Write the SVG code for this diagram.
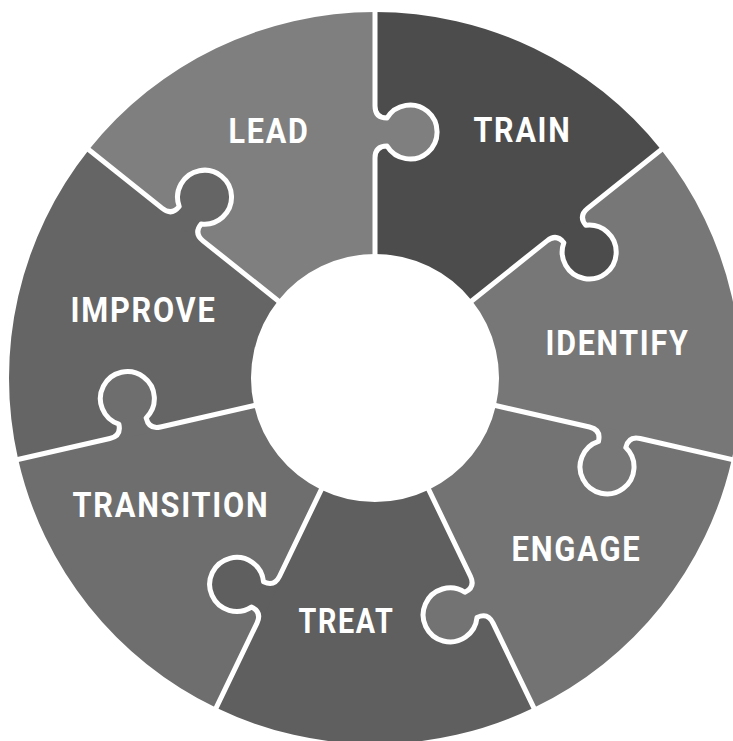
<svg xmlns="http://www.w3.org/2000/svg" width="733" height="741" viewBox="0 0 733 741">
<style>
.lbl{font-family:Roboto,"Liberation Sans",Arial,sans-serif;font-weight:700;font-size:35px;fill:#ffffff;text-anchor:middle;letter-spacing:2px}
.dv{fill:none;stroke:#ffffff;stroke-width:5;stroke-linejoin:round}
</style>
<defs>
<path id="lobe" d="M 216 -3 L 220 0 C 228 0 232 4 232 12 A 27 27 0 1 0 260 12 C 260 4 264 0 272 0 L 276 -3 Z"/>
<path id="divider" d="M 118 0 L 220 0 C 228 0 232 4 232 12 A 27 27 0 1 0 260 12 C 260 4 264 0 272 0 L 372 0"/>
<mask id="mLead" maskUnits="userSpaceOnUse" x="0" y="0" width="733" height="741">
<rect width="733" height="741" fill="#ffffff"/>
<use href="#lobe" fill="#000000" transform="translate(375 378) rotate(218.5714)"/>
</mask>
</defs>
<rect width="733" height="741" fill="#ffffff"/>
<g id="improve" fill="#656565">
<path d="M 254.11 405.59 L 18.18 459.44 A 366 366 0 0 1 88.85 149.80 L 278.05 300.69 A 124 124 0 0 0 254.11 405.59 Z"/>
<use href="#lobe" transform="translate(375 378) rotate(218.5714)"/>
<text class="lbl" x="143.5" y="322" textLength="146" lengthAdjust="spacingAndGlyphs">IMPROVE</text>
</g>
<g id="transition" fill="#6e6e6e">
<path d="M 321.20 489.72 L 216.20 707.76 A 366 366 0 0 1 18.18 459.44 L 254.11 405.59 A 124 124 0 0 0 321.20 489.72 Z"/>
<use href="#lobe" transform="translate(375 378) rotate(167.1429)"/>
<text class="lbl" x="171" y="517" textLength="197" lengthAdjust="spacingAndGlyphs">TRANSITION</text>
</g>
<g id="treat" fill="#5f5f5f">
<path d="M 428.80 489.72 L 533.80 707.76 A 366 366 0 0 1 216.20 707.76 L 321.20 489.72 A 124 124 0 0 0 428.80 489.72 Z"/>
<use href="#lobe" transform="translate(375 378) rotate(115.7143)"/>
<text class="lbl" x="346.5" y="633" textLength="96" lengthAdjust="spacingAndGlyphs">TREAT</text>
</g>
<g id="engage" fill="#737373">
<path d="M 495.89 405.59 L 731.82 459.44 A 366 366 0 0 1 533.80 707.76 L 428.80 489.72 A 124 124 0 0 0 495.89 405.59 Z"/>
<use href="#lobe" transform="translate(375 378) rotate(64.2857)"/>
<text class="lbl" x="576.5" y="561" textLength="130" lengthAdjust="spacingAndGlyphs">ENGAGE</text>
</g>
<g id="identify" fill="#777777">
<path d="M 471.95 300.69 L 661.15 149.80 A 366 366 0 0 1 731.82 459.44 L 495.89 405.59 A 124 124 0 0 0 471.95 300.69 Z"/>
<use href="#lobe" transform="translate(375 378) rotate(12.8571)"/>
<text class="lbl" x="617.5" y="355" textLength="144" lengthAdjust="spacingAndGlyphs">IDENTIFY</text>
</g>
<g id="train" fill="#4c4c4c">
<path d="M 375 254 L 375 12 A 366 366 0 0 1 661.15 149.80 L 471.95 300.69 A 124 124 0 0 0 375 254 Z"/>
<use href="#lobe" transform="translate(375 378) rotate(-38.5714)"/>
<text class="lbl" x="522.5" y="142" textLength="98" lengthAdjust="spacingAndGlyphs">TRAIN</text>
</g>
<g id="lead" fill="#7f7f7f">
<path mask="url(#mLead)" d="M 278.05 300.69 L 88.85 149.80 A 366 366 0 0 1 375 12 L 375 254 A 124 124 0 0 0 278.05 300.69 Z"/>
<use href="#lobe" transform="translate(375 378) rotate(-90)"/>
<text class="lbl" x="269" y="143" textLength="81" lengthAdjust="spacingAndGlyphs">LEAD</text>
</g>
<g id="connectors">
<use href="#divider" class="dv" transform="translate(375 378) rotate(-90)"/>
<use href="#divider" class="dv" transform="translate(375 378) rotate(-38.5714)"/>
<use href="#divider" class="dv" transform="translate(375 378) rotate(12.8571)"/>
<use href="#divider" class="dv" transform="translate(375 378) rotate(64.2857)"/>
<use href="#divider" class="dv" transform="translate(375 378) rotate(115.7143)"/>
<use href="#divider" class="dv" transform="translate(375 378) rotate(167.1429)"/>
<use href="#divider" class="dv" transform="translate(375 378) rotate(218.5714)"/>
</g>
</svg>
